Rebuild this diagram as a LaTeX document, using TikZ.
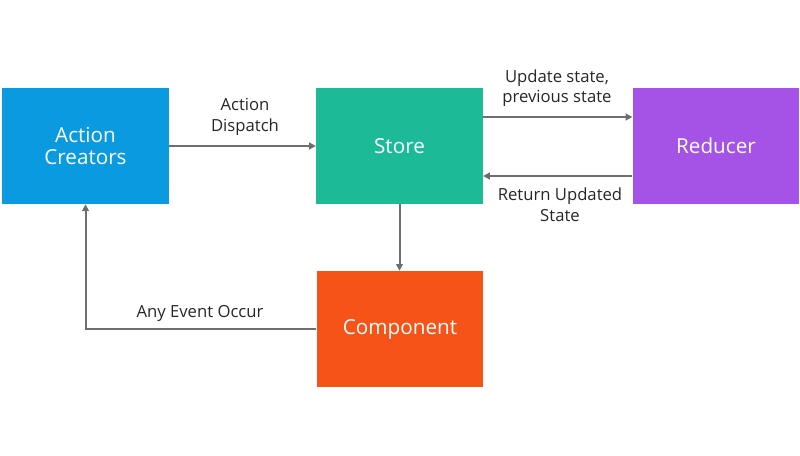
\documentclass[tikz,border=0pt]{standalone}
\usepackage{fontspec}
\setmainfont{Open Sans}
\usetikzlibrary{arrows.meta,positioning}

\definecolor{acblue}{HTML}{0A9ADF}
\definecolor{storeteal}{HTML}{1DBA97}
\definecolor{redpurple}{HTML}{A453E6}
\definecolor{comporange}{HTML}{F55318}
\definecolor{linegray}{HTML}{6E6E6E}

\tikzset{
  box/.style={minimum width=125pt, minimum height=87pt, inner sep=0pt,
    text=white, align=center, font=\fontsize{15.5}{18}\selectfont},
  flow/.style={draw=linegray, line width=1.5pt, -{Triangle[length=5pt,width=5pt]}},
  lbl/.style={align=center, text=black!85, font=\fontsize{12.5}{15.5}\selectfont}
}

\begin{document}
\begin{tikzpicture}[x=0.75pt, y=-0.75pt]
    \useasboundingbox (0,0) rectangle (800,455);

    \node[box, fill=acblue] (ac) at (85.5,146) {\raisebox{-2pt}{Action}\\Creators};
    \node[box, fill=storeteal] (store) at (399.5,146) {\raisebox{-3pt}{Store}};
    \node[box, fill=redpurple] (red) at (716,146) {\raisebox{-3pt}{Reducer}};
    \node[box, fill=comporange] (comp) at (400,329) {\raisebox{-1.5pt}{Component}};

    % connectors
    \draw[flow] (ac) -- (store);
    \draw[flow] ([yshift=21.75pt]store.east) -- ([yshift=21.75pt]red.west);
    \draw[flow] ([yshift=-22.5pt]red.west) -- ([yshift=-22.5pt]store.east);
    \draw[flow] (store.south) -- (store.south |- comp.north);
    \draw[flow] (comp.west) -| (ac.south);

    % labels
    \node[lbl] (dispatch) at (245,117) {Action\\Dispatch};
    \node[lbl] (update) at (557,88) {Update state,\\previous state};
    \node[lbl] (return) at (560,205) {Return Updated\\State};
    \node[lbl] (event) at (200,313) {Any Event Occur};
\end{tikzpicture}
\end{document}
